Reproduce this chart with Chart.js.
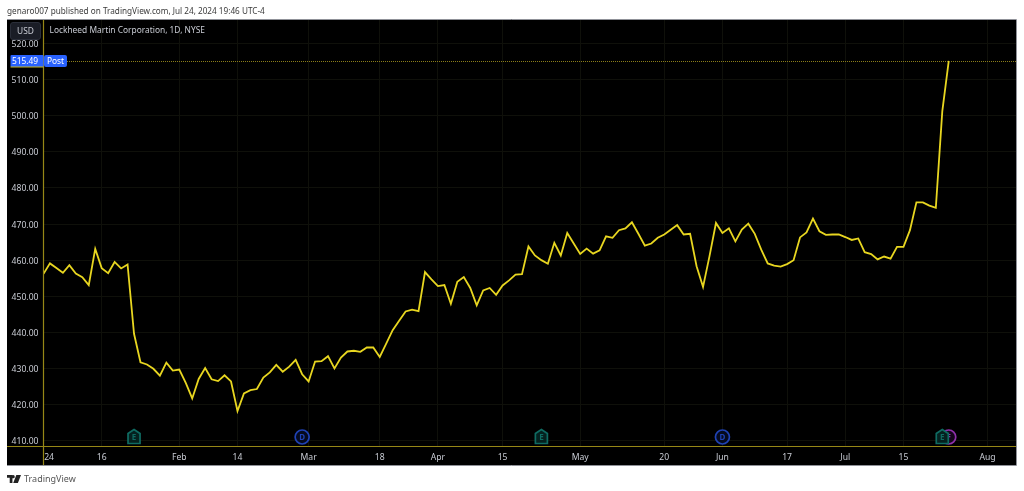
<!DOCTYPE html>
<html>
<head>
<meta charset="utf-8">
<script src="https://cdn.jsdelivr.net/npm/chart.js@4/dist/chart.umd.min.js"></script>
<style>
  html, body { margin: 0; padding: 0; background: #fff; }
  #wrap { position: relative; width: 1024px; height: 491px; overflow: hidden; }
  canvas { display: block; }
  .txt { position: absolute; white-space: nowrap; font-family: "Noto Sans", sans-serif; }
  #pub { left: 7px; top: 4px; font-size: 8.2px; line-height: 14px; color: #3a3a3a; }
  #title { left: 49.5px; top: 23px; font-size: 8.4px; line-height: 14px; color: #c9ccd4; }
  #usd { left: 10px; top: 22px; width: 31px; height: 18px; border-radius: 3px; background: #1a1d26; border: 1px solid #2a2e39;
         box-sizing: border-box; font-size: 8.4px; line-height: 16px; text-align: center; color: #c9ccd4; }
  #brand { left: 24px; top: 472px; font-size: 9px; line-height: 14px; color: #555; }
  #logo { position: absolute; left: 7px; top: 475px; }
</style>
</head>
<body>
<div id="wrap">
  <canvas id="chart" width="1024" height="491"></canvas>
  <div class="txt" id="pub">genaro007 published on TradingView.com, Jul 24, 2024 19:46 UTC-4</div>
  <div class="txt" id="usd">USD</div>
  <div class="txt" id="title">Lockheed Martin Corporation, 1D, NYSE</div>
  <svg id="logo" width="14" height="8" viewBox="0 0 36 20"><path d="M0 0h14v20H7V7H0zM16 0a4 4 0 1 1 0 8 4 4 0 0 1 0-8zM24 0h12l-8 20H16z" fill="#222"/></svg>
  <div class="txt" id="brand">TradingView</div>
</div>
<script>
// daily closes, Jan 2 2024 to Jul 24 2024
const closes = [
  456.2, 459.1, 457.8, 456.5, 458.6, 456.3, 455.3, 453.1, 463.1, 457.8,
  456.4, 459.5, 457.7, 458.8, 439.6, 431.7, 431.1, 429.9, 428.0, 431.6,
  429.4, 429.7, 426.0, 421.7, 427.1, 430.1, 427.0, 426.5, 428.1, 426.4,
  418.2, 423.1, 424.0, 424.3, 427.5, 428.9, 431.0, 429.1, 430.5, 432.4,
  428.4, 426.4, 431.9, 432.0, 433.4, 430.0, 433.0, 434.7, 434.9, 434.6,
  435.8, 435.8, 433.2, 436.9, 440.6, 443.2, 445.8, 446.3, 445.9, 456.7,
  454.7, 452.8, 453.1, 447.9, 454.0, 455.3, 452.3, 447.5, 451.6, 452.3,
  450.4, 453.0, 454.4, 456.0, 456.1, 463.8, 461.3, 460.0, 459.0, 464.8,
  461.3, 467.5, 464.6, 461.7, 463.2, 461.8, 462.7, 466.6, 466.2, 468.3,
  468.8, 470.5, 467.3, 464.0, 464.6, 466.2, 467.1, 468.4, 469.7, 467.1,
  467.3, 458.3, 452.6, 461.1, 470.3, 467.5, 468.8, 465.2, 468.5, 470.1,
  467.3, 462.9, 459.1, 458.5, 458.2, 458.9, 460.0, 466.3, 467.7, 471.5,
  468.0, 467.0, 467.1, 467.1, 466.4, 465.6, 466.0, 462.2, 461.7, 460.2,
  461.0, 460.4, 463.7, 463.7, 468.3, 476.0, 476.0, 475.1, 474.5, 501.2,
  515.2
];

// post market price shown on the axis badge
const postPrice = '515.49';
const postLabel = 'Post';

// time axis, position is the trading day number
const xTickDays = [0, 9, 21, 30, 41, 52, 61, 71, 83, 96, 105, 115, 124, 133, 146];
const xTickLabels = ['24', '16', 'Feb', '14', 'Mar', '18', 'Apr', '15', 'May', '20', 'Jun', '17', 'Jul', '15', 'Aug'];
const xLastDay = 150.4;

const yTicks = [410, 420, 430, 440, 450, 460, 470, 480, 490, 500, 510, 520];
const yMin = 408.38;
const yMax = 526.8;

// earnings / dividend / split markers along the bottom
const eventDays = [14, 40, 77, 105, 140, 139];
const eventKinds = ['E', 'D', 'E', 'D', 'F', 'E'];

const FONT = '"Noto Sans", sans-serif';
const AXIS_COLOR = '#968716';
const GRID_COLOR = '#0f100a';
const LINE_COLOR = '#e8d620';

const eventColors = { E: '#0f6b62', D: '#1f42b4', F: '#8f30aa' };
const eventFills = { E: '#05211f', D: '#050a1e', F: '#14061a' };

// black pane and frame behind the scales
const panePlugin = {
  id: 'pane',
  beforeDraw: function(chart) {
    const c = chart.ctx;
    c.save();
    c.fillStyle = '#000';
    c.fillRect(7, 19, 1009, 446);
    c.restore();
  },
  afterDraw: function(chart) {
    const c = chart.ctx;
    const y = chart.scales.y;
    const x = chart.scales.x;
    const area = chart.chartArea;
    const py = Math.round(y.getPixelForValue(closes[closes.length - 1])) + 0.5;

    c.save();
    // axis lines
    c.strokeStyle = AXIS_COLOR;
    c.lineWidth = 1.2;
    c.beginPath();
    c.moveTo(area.left, 19);
    c.lineTo(area.left, 465);
    c.moveTo(7, area.bottom);
    c.lineTo(1016, area.bottom);
    c.stroke();

    // frame
    c.strokeStyle = '#8f9198';
    c.lineWidth = 1;
    c.beginPath();
    c.moveTo(7, 19.5);
    c.lineTo(1016.5, 19.5);
    c.lineTo(1016.5, 465.5);
    c.lineTo(7, 465.5);
    c.stroke();

    // price line
    c.strokeStyle = '#8a7d1a';
    c.setLineDash([1, 1]);
    c.beginPath();
    c.moveTo(67, py);
    c.lineTo(1016, py);
    c.stroke();
    c.setLineDash([]);

    // price and Post labels
    c.fillStyle = '#2962ff';
    c.beginPath();
    c.roundRect(10.5, py - 6.5, 33, 12, 1);
    c.fill();
    c.beginPath();
    c.roundRect(44, py - 6.5, 23, 12, 2);
    c.fill();
    c.fillStyle = '#c9b81e';
    c.fillRect(10.5, py + 5, 33, 1);
    c.fillStyle = '#fff';
    c.font = '8.4px ' + FONT;
    c.textBaseline = 'middle';
    c.textAlign = 'center';
    c.fillText(postPrice, 25, py);
    c.fillText(postLabel, 55.5, py);

    // event markers
    const my = 437;
    eventDays.forEach(function(day, i) {
      const kind = eventKinds[i];
      const mx = x.getPixelForValue(day);
      c.strokeStyle = eventColors[kind];
      c.lineWidth = 1.7;
      c.beginPath();
      if (kind === 'E') {
        c.moveTo(mx, my - 7.5);
        c.lineTo(mx + 6, my - 3.5);
        c.lineTo(mx + 6, my + 6.5);
        c.lineTo(mx - 6, my + 6.5);
        c.lineTo(mx - 6, my - 3.5);
        c.closePath();
      } else {
        c.arc(mx, my, 7, 0, Math.PI * 2);
      }
      c.fillStyle = eventFills[kind];
      c.fill();
      c.stroke();
      c.fillStyle = eventColors[kind];
      c.font = 'bold 8px ' + FONT;
      c.textAlign = 'center';
      c.textBaseline = 'middle';
      c.fillText(kind, mx, my + 0.5);
    });
    c.restore();
  }
};

new Chart(document.getElementById('chart'), {
  type: 'line',
  data: {
    labels: closes.map(function(v, i) { return i; }),
    datasets: [{
      data: closes.map(function(v, i) { return { x: i, y: v }; }),
      borderColor: LINE_COLOR,
      borderWidth: 1.8,
      pointRadius: 0,
      tension: 0,
      fill: false
    }]
  },
  plugins: [panePlugin],
  options: {
    responsive: false,
    animation: false,
    parsing: false,
    layout: { padding: { left: 7, top: 19, right: 8, bottom: 25 } },
    plugins: { legend: { display: false }, tooltip: { enabled: false } },
    scales: {
      x: {
        type: 'linear',
        min: 0,
        max: xLastDay,
        afterBuildTicks: function(scale) {
          scale.ticks = xTickDays.map(function(d) { return { value: d }; });
        },
        afterFit: function(scale) { scale.height = 19.5; },
        border: { display: false },
        grid: { color: GRID_COLOR, lineWidth: 1, drawTicks: false },
        ticks: {
          autoSkip: false,
          maxRotation: 0,
          padding: 6,
          color: '#c9ccd4',
          font: { family: FONT, size: 8.6 },
          callback: function(value, i) {
            // first label sits right of the axis line, not centred on it
            return i === 0 ? '\u00a0\u00a0\u00a0\u00a0\u00a0' + xTickLabels[i] : xTickLabels[i];
          }
        }
      },
      y: {
        min: yMin,
        max: yMax,
        afterBuildTicks: function(scale) {
          scale.ticks = yTicks.map(function(v) { return { value: v }; });
        },
        afterFit: function(scale) { scale.width = 36.5; },
        border: { display: false },
        grid: { color: GRID_COLOR, lineWidth: 1, drawTicks: false },
        ticks: {
          padding: 5,
          labelOffset: 1,
          color: '#c9ccd4',
          font: { family: FONT, size: 8.6 },
          callback: function(value) { return value.toFixed(2); }
        }
      }
    }
  }
});
</script>
</body>
</html>
